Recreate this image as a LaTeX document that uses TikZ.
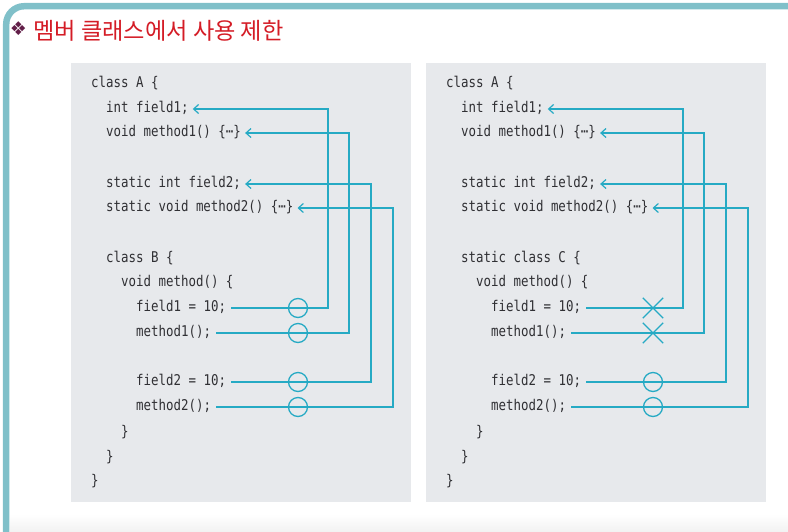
\documentclass[tikz,border=0pt]{standalone}
\usepackage{fontspec}
\setmonofont[FakeStretch=0.84]{DejaVu Sans Mono}
\newfontfamily\kofont{Noto Sans CJK KR}
\newfontfamily\symfont{DejaVu Sans}
\usetikzlibrary{arrows.meta,shapes.misc}
\definecolor{frameteal}{RGB}{128,192,201}
\definecolor{linkteal}{RGB}{38,170,196}
\definecolor{panelgray}{RGB}{231,233,236}
\definecolor{codegray}{RGB}{48,48,52}
\definecolor{titlered}{RGB}{212,28,38}
\definecolor{bulletpurple}{RGB}{98,30,72}
\begin{document}
\begin{tikzpicture}[x=1pt,y=-1pt,>={Straight Barb[length=5pt,width=9pt]},
  code/.style={anchor=west,inner sep=0pt,text height=11pt,text depth=3.5pt,
    text=codegray,font=\fontsize{14.8}{17}\selectfont\ttfamily},
  link/.style={linkteal,line width=1.2pt,->,shorten <=5pt,shorten >=4pt},
  okmark/.style={circle,draw=linkteal,line width=1.3pt,minimum size=19pt,inner sep=0pt},
  nomark/.style={cross out,draw=linkteal,line width=1.3pt,minimum size=19pt,inner sep=0pt}]
\useasboundingbox (0,0) rectangle (788,531);
\shade[top color=white,bottom color=gray!10] (10,514) rectangle (788,531);
\draw[frameteal,line width=6.5pt,rounded corners=18pt] (6.2,545) -- (6.2,6.2) -- (800,6.2);
\node[text=bulletpurple,font=\fontsize{19}{21}\selectfont\symfont] (bullet) at (18.5,29) {❖};
\node[anchor=west,inner sep=0pt,text=titlered,font=\fontsize{23.2}{26}\selectfont\kofont] (title) at (33,30.5) {멤버 클래스에서 사용 제한};
\foreach \p/\dx/\cls/\mk in {l/0/{class B \{}/okmark, r/355/{static class C \{}/nomark}{
  \fill[panelgray] ({71+\dx},63) rectangle ({411+\dx},502);
  \node[code] (\p A) at ({91+\dx},84) {class A \{};
  \node[code] (\p f1) at ({106+\dx},109) {int field1;};
  \node[code] (\p m1) at ({106+\dx},133) {void method1() \{⋯\}};
  \node[code] (\p f2) at ({106+\dx},184) {static int field2;};
  \node[code] (\p m2) at ({106+\dx},208) {static void method2() \{⋯\}};
  \node[code] (\p B) at ({106+\dx},259) {\cls};
  \node[code] (\p mb) at ({121+\dx},283) {void method() \{};
  \node[code] (\p uf1) at ({136+\dx},308) {field1 = 10;};
  \node[code] (\p um1) at ({136+\dx},333) {method1();};
  \node[code] (\p uf2) at ({136+\dx},382) {field2 = 10;};
  \node[code] (\p um2) at ({136+\dx},407) {method2();};
  \node[code] (\p e1) at ({121+\dx},433) {\}};
  \node[code] (\p e2) at ({106+\dx},458) {\}};
  \node[code] (\p e3) at ({91+\dx},482) {\}};
  \coordinate (\p mx) at ({298+\dx},0);
  \coordinate (\p v1) at ({328+\dx},0);
  \coordinate (\p v2) at ({349+\dx},0);
  \coordinate (\p v3) at ({371+\dx},0);
  \coordinate (\p v4) at ({393+\dx},0);
  \draw[link] (\p uf1.east) -| (\p v1 |- \p f1.east) -- (\p f1.east);
  \draw[link] (\p um1.east) -| (\p v2 |- \p m1.east) -- (\p m1.east);
  \draw[link] (\p uf2.east) -| (\p v3 |- \p f2.east) -- (\p f2.east);
  \draw[link] (\p um2.east) -| (\p v4 |- \p m2.east) -- (\p m2.east);
  \node[\mk] (\p k1) at (\p uf1.east -| \p mx) {};
  \node[\mk] (\p k2) at (\p um1.east -| \p mx) {};
  \node[okmark] (\p k3) at (\p uf2.east -| \p mx) {};
  \node[okmark] (\p k4) at (\p um2.east -| \p mx) {};
}
\end{tikzpicture}
\end{document}
